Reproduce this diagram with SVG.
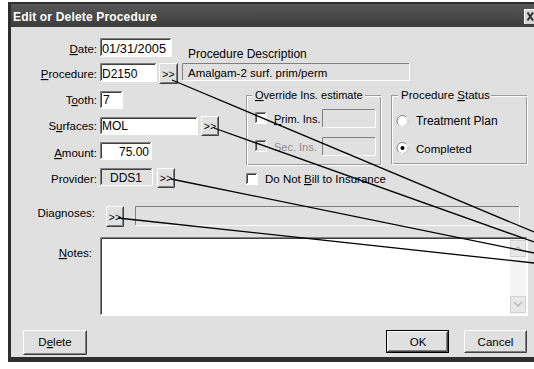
<svg xmlns="http://www.w3.org/2000/svg" width="534" height="369" viewBox="0 0 534 369">
<defs>
<linearGradient id="titleGrad" x1="0" y1="0" x2="0" y2="1">
<stop offset="0" stop-color="#585858"/>
<stop offset="0.5" stop-color="#4a4a4a"/>
<stop offset="1" stop-color="#3c3c3c"/>
</linearGradient>
</defs>
<style>
text{font-family:"Liberation Sans",Arial,sans-serif;font-size:11.5px;fill:#000}
.val{font-size:12px}
.lbl{text-anchor:end}
.mid{text-anchor:middle}
.title{font-weight:bold;font-size:12px;fill:#fff}
.face{fill:#e0e0e0}
.well{fill:#fff}
.hi{fill:none;stroke:#fff}
.sh{fill:none;stroke:#808080}
.dk{fill:none;stroke:#404040}
.etch{fill:none;stroke:#9a9a9a}
.etchHi{fill:none;stroke:#fff}
.dis{fill:#8c8c8c}
.wire{fill:none;stroke:#000;stroke-width:1.3}
.arrowBtn{font-size:10.5px;text-anchor:middle}
.u{text-decoration:underline}
</style>

<!-- window frame, caption and client area -->
<rect x="8" y="2" width="530" height="360" fill="#2e2e2e"/>
<rect x="11" y="4" width="527" height="23" fill="url(#titleGrad)"/>
<rect x="11" y="27" width="527" height="330" class="face"/>
<text x="13" y="21" class="title" textLength="144">Edit or Delete Procedure</text>
<g id="closeBtn">
<rect x="524" y="9" width="12" height="15" fill="#d4d4d4"/>
<path d="M524.5 23.5 V9.5 H536" class="hi"/>
<path d="M527.5 12.5 L533 20.5 M533 12.5 L527.5 20.5" stroke="#303030" stroke-width="2" fill="none"/>
</g>

<!-- Date -->
<g id="date">
<text x="97" y="53" class="lbl"><tspan class="u">D</tspan>ate:</text>
<rect x="100" y="38" width="72" height="19" class="well"/>
<path class="sh" d="M100.5 56 V38.5 H171"/>
<path class="dk" d="M101.5 55 V39.5 H170"/>
<path class="hi" d="M100.5 56.5 H171.5 V38.5"/>
<text x="102" y="53" class="val" textLength="64" lengthAdjust="spacingAndGlyphs">01/31/2005</text>
</g>

<text id="descCaption" x="188" y="58" style="font-size:12px">Procedure Description</text>

<!-- Procedure -->
<g id="procedure">
<text x="97" y="78" class="lbl"><tspan class="u">P</tspan>rocedure:</text>
<rect x="100" y="63" width="57" height="19" class="well"/>
<path class="sh" d="M100.5 81 V63.5 H156"/>
<path class="dk" d="M101.5 80 V64.5 H155"/>
<path class="hi" d="M100.5 81.5 H156.5 V63.5"/>
<text x="102" y="78" class="val">D2150</text>
</g>
<g id="procedureBtn">
<rect x="159" y="63" width="19" height="21" class="face"/>
<path class="hi" d="M159.5 83 V63.5 H177"/>
<path class="sh" d="M160.5 82.5 H176.5 V64.5"/>
<path class="dk" d="M159.5 83.5 H177.5 V63.5"/>
<text x="168.5" y="78" class="arrowBtn">&gt;&gt;</text>
</g>
<g id="description">
<rect x="182" y="63" width="228" height="18" class="face"/>
<path class="sh" d="M182.5 80 V63.5 H409"/>
<path class="hi" d="M182.5 80.5 H409.5 V63.5"/>
<text x="188" y="77">Amalgam-2 surf. prim/perm</text>
</g>

<!-- Tooth -->
<g id="tooth">
<text x="97" y="104" class="lbl">T<tspan class="u">o</tspan>oth:</text>
<rect x="100" y="91" width="23" height="18" class="well"/>
<path class="sh" d="M100.5 108 V91.5 H122"/>
<path class="dk" d="M101.5 107 V92.5 H121"/>
<path class="hi" d="M100.5 108.5 H122.5 V91.5"/>
<text x="103" y="104" class="val">7</text>
</g>

<!-- Surfaces -->
<g id="surfaces">
<text x="97" y="130" class="lbl">S<tspan class="u">u</tspan>rfaces:</text>
<rect x="100" y="117" width="98" height="18" class="well"/>
<path class="sh" d="M100.5 134 V117.5 H197"/>
<path class="dk" d="M101.5 133 V118.5 H196"/>
<path class="hi" d="M100.5 134.5 H197.5 V117.5"/>
<text x="102" y="130" class="val">MOL</text>
</g>
<g id="surfacesBtn">
<rect x="201" y="116" width="18" height="20" class="face"/>
<path class="hi" d="M201.5 135 V116.5 H218"/>
<path class="sh" d="M202.5 134.5 H217.5 V117.5"/>
<path class="dk" d="M201.5 135.5 H218.5 V116.5"/>
<text x="210" y="130" class="arrowBtn">&gt;&gt;</text>
</g>

<!-- Amount -->
<g id="amount">
<text x="97" y="157" class="lbl"><tspan class="u">A</tspan>mount:</text>
<rect x="100" y="142" width="52" height="18" class="well"/>
<path class="sh" d="M100.5 159 V142.5 H151"/>
<path class="dk" d="M101.5 158 V143.5 H150"/>
<path class="hi" d="M100.5 159.5 H151.5 V142.5"/>
<text x="149" y="156" class="lbl val">75.00</text>
</g>

<!-- Provider -->
<g id="provider">
<text x="97" y="183" class="lbl">Provider:</text>
<rect x="100" y="168" width="53" height="18" class="face"/>
<path class="sh" d="M100.5 185 V168.5 H152"/>
<path class="dk" d="M101.5 184 V169.5 H151"/>
<path class="hi" d="M100.5 185.5 H152.5 V168.5"/>
<text x="126" y="182" class="mid val">DDS1</text>
</g>
<g id="providerBtn">
<rect x="157" y="168" width="18" height="20" class="face"/>
<path class="hi" d="M157.5 187 V168.5 H174"/>
<path class="sh" d="M158.5 186.5 H173.5 V169.5"/>
<path class="dk" d="M157.5 187.5 H174.5 V168.5"/>
<text x="166" y="182" class="arrowBtn">&gt;&gt;</text>
</g>

<!-- Diagnoses -->
<g id="diagnoses">
<text x="95" y="217" class="lbl">Diagnoses:</text>
<rect x="135" y="206" width="385" height="20" class="face"/>
<path class="sh" d="M135.5 225 V206.5 H519"/>
<path class="hi" d="M135.5 225.5 H519.5 V206.5"/>
</g>
<g id="diagnosesBtn">
<rect x="106" y="206" width="18" height="21" class="face"/>
<path class="hi" d="M106.5 226 V206.5 H123"/>
<path class="sh" d="M107.5 225.5 H122.5 V207.5"/>
<path class="dk" d="M106.5 226.5 H123.5 V206.5"/>
<text x="115" y="221" class="arrowBtn">&gt;&gt;</text>
</g>

<!-- Notes -->
<g id="notes">
<text x="92" y="257" class="lbl"><tspan class="u">N</tspan>otes:</text>
<rect x="100" y="237" width="428" height="79" class="well"/>
<path class="sh" d="M100.5 315 V237.5 H527"/>
<path class="dk" d="M101.5 314 V238.5 H526"/>
<path class="hi" d="M100.5 315.5 H527.5 V237.5"/>
<rect x="510" y="239" width="16" height="75" fill="#f4f4f4"/>
<rect x="510.5" y="240.5" width="15" height="16" fill="#e8e8e8" stroke="#d0d0d0"/>
<path d="M514 251 L518 247 L522 251" fill="none" stroke="#b8b8b8" stroke-width="1.5"/>
<rect x="510.5" y="296.5" width="15" height="16" fill="#e8e8e8" stroke="#d0d0d0"/>
<path d="M514 302 L518 306 L522 302" fill="none" stroke="#b8b8b8" stroke-width="1.5"/>
</g>

<!-- Override Ins. estimate group -->
<g id="override">
<rect x="246.5" y="95.5" width="134" height="69" class="etch"/>
<rect x="247.5" y="96.5" width="134" height="69" class="etchHi"/>
<rect x="252" y="93" width="113" height="6" class="face"/>
<text x="255" y="99" style="font-size:11px"><tspan class="u">O</tspan>verride Ins. estimate</text>
<rect x="255" y="112" width="12" height="12" class="well"/>
<path class="sh" d="M255.5 123 V112.5 H266"/>
<path class="dk" d="M256.5 122 V113.5 H265"/>
<path class="hi" d="M255.5 123.5 H266.5 V112.5"/>
<text x="274" y="123" style="font-size:11px"><tspan class="u">P</tspan>rim. Ins.</text>
<rect x="322" y="109" width="54" height="19" class="face"/>
<path class="sh" d="M322.5 127 V109.5 H375"/>
<path class="hi" d="M322.5 127.5 H375.5 V109.5"/>
<rect x="255" y="140" width="12" height="12" class="face"/>
<path class="sh" d="M255.5 151 V140.5 H266"/>
<path class="dk" d="M256.5 150 V141.5 H265"/>
<path class="hi" d="M255.5 151.5 H266.5 V140.5"/>
<text x="274" y="151" class="dis" style="font-size:11px">Sec. Ins.</text>
<rect x="322" y="137" width="54" height="19" class="face"/>
<path class="sh" d="M322.5 155 V137.5 H375"/>
<path class="hi" d="M322.5 155.5 H375.5 V137.5"/>
</g>

<!-- Do Not Bill checkbox -->
<g id="doNotBill">
<rect x="246" y="173" width="12" height="12" class="well"/>
<path class="sh" d="M246.5 184 V173.5 H257"/>
<path class="dk" d="M247.5 183 V174.5 H256"/>
<path class="hi" d="M246.5 184.5 H257.5 V173.5"/>
<text x="265" y="183">Do Not <tspan class="u">B</tspan>ill to Insurance</text>
</g>

<!-- Procedure Status group -->
<g id="status">
<rect x="391.5" y="95.5" width="135" height="68" class="etch"/>
<rect x="392.5" y="96.5" width="135" height="68" class="etchHi"/>
<rect x="398" y="93" width="93" height="6" class="face"/>
<text x="401" y="99">Procedure <tspan class="u">S</tspan>tatus</text>
<circle cx="402.5" cy="121" r="5.5" fill="#fff" stroke="#808080"/>
<path d="M398.3 125.2 A6 6 0 0 0 406.7 116.8" class="hi"/>
<text x="416" y="125" class="val">Treatment Plan</text>
<circle cx="402.5" cy="148" r="5.5" fill="#fff" stroke="#808080"/>
<path d="M398.3 152.2 A6 6 0 0 0 406.7 143.8" class="hi"/>
<circle cx="402.5" cy="148" r="2" fill="#000"/>
<text x="416" y="153">Completed</text>
</g>

<!-- bottom buttons -->
<g id="deleteBtn">
<rect x="23" y="330" width="64" height="25" class="face"/>
<path class="hi" d="M23.5 354 V330.5 H86"/>
<path class="sh" d="M24.5 353.5 H85.5 V331.5"/>
<path class="dk" d="M23.5 354.5 H86.5 V330.5"/>
<text x="55" y="346" class="mid">D<tspan class="u">e</tspan>lete</text>
</g>
<g id="okBtn">
<rect x="386" y="330" width="63" height="23" class="face"/>
<rect x="386.5" y="330.5" width="62" height="22" fill="none" stroke="#000"/>
<path class="hi" d="M387.5 351 V331.5 H447"/>
<path class="sh" d="M388.5 350.5 H446.5 V332.5"/>
<path class="dk" d="M387.5 351.5 H447.5 V331.5"/>
<text x="418" y="346" class="mid">OK</text>
</g>
<g id="cancelBtn">
<rect x="464" y="330" width="63" height="23" class="face"/>
<path class="hi" d="M464.5 352 V330.5 H526"/>
<path class="sh" d="M465.5 351.5 H525.5 V331.5"/>
<path class="dk" d="M464.5 352.5 H526.5 V330.5"/>
<text x="495.5" y="346" class="mid">Cancel</text>
</g>

<!-- leader lines from the lookup buttons -->
<g id="connectors">
<line class="wire" x1="172" y1="80" x2="534" y2="232"/>
<line class="wire" x1="214" y1="128" x2="534" y2="242"/>
<line class="wire" x1="171" y1="179" x2="534" y2="253"/>
<line class="wire" x1="118" y1="218" x2="534" y2="263"/>
</g>
</svg>
